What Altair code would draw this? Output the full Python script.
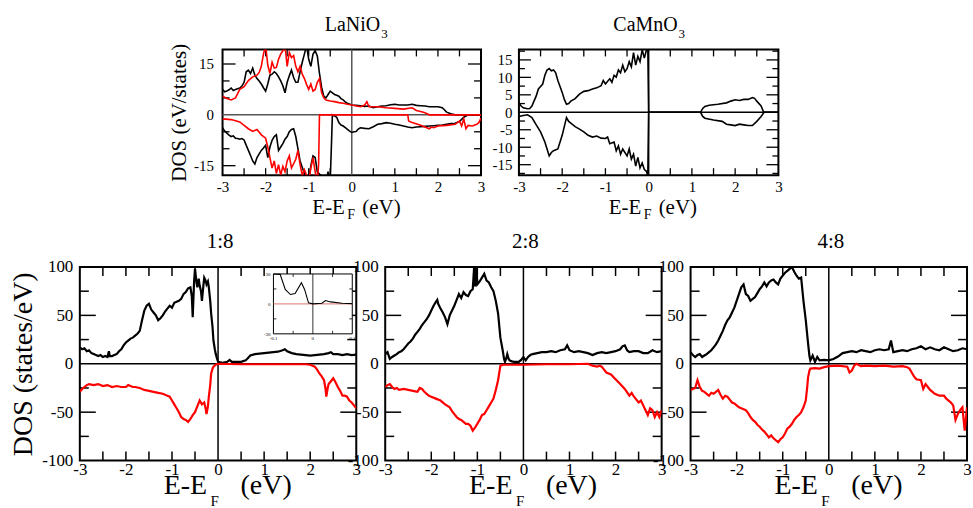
import altair as alt
import pandas as pd

FONT = "Liberation Serif"

# ---------------- tick / label values ----------------
X_LABELS = [-3, -2, -1, 0, 1, 2, 3]
X_TICKS = [-2.5, -2, -1.5, -1, -0.5, 0.5, 1, 1.5, 2, 2.5]
BOT_Y_LABELS = [-100, -50, 0, 50, 100]
BOT_Y_MAJOR = [-50, 50]
BOT_Y_MINOR = [-75, -25, 25, 75]
LA_Y_LABELS = [-15, 0, 15]
LA_Y_MAJOR = [-15, 15]
LA_Y_MINOR = [-10, -5, 5, 10]
CA_Y_LABELS = [-15, -10, -5, 0, 5, 10, 15]
CA_Y_MAJOR = [-15, -10, -5, 5, 10, 15]
CA_Y_MINOR = [-17.5, -12.5, -7.5, -2.5, 2.5, 7.5, 12.5, 17.5]
INSET_X_LABELS = [-0.1, 0, 0.1]
INSET_Y_LABELS = [-30, 0, 30]
INSET_X_TICKS = [-0.05, 0.05]
INSET_Y_TICKS = [-15, 15]
PANEL_TITLES = ["1:8", "2:8", "4:8"]
TOP_TITLES = [("LaNiO", "3"), ("CaMnO", "3")]

# ---------------- LaNiO3 (E, DOS) ----------------
LA_UP_BLACK = [(-3.0,7.5),(-2.95,6.8),(-2.9,7.0),(-2.85,7.4),(-2.8,7.9),(-2.75,7.2),(-2.7,7.5),(-2.65,7.7),(-2.6,7.9),(-2.55,8.5),
 (-2.5,9.6),(-2.45,12.7),(-2.4,13.2),(-2.35,12.2),(-2.3,13.8),(-2.25,11.7),(-2.2,10.7),(-2.15,10.0),(-2.1,9.1),(-2.05,8.0),
 (-2.0,7.0),(-1.95,9.1),(-1.9,11.7),(-1.85,12.0),(-1.8,12.7),(-1.75,12.2),(-1.7,11.2),(-1.65,10.0),(-1.6,8.6),(-1.55,6.5),
 (-1.5,9.6),(-1.45,11.5),(-1.4,13.2),(-1.35,11.0),(-1.3,9.6),(-1.25,9.6),(-1.2,12.7),(-1.15,15.5),(-1.1,17.9),(-1.05,20.5),
 (-1.0,16.4),(-0.95,14.3),(-0.9,17.9),(-0.85,18.9),(-0.8,17.4),(-0.75,12.2),(-0.7,8.1),(-0.65,5.5),(-0.6,5.0),(-0.55,6.0),
 (-0.5,7.0),(-0.45,6.5),(-0.4,6.0),(-0.35,5.8),(-0.3,5.5),(-0.25,4.8),(-0.2,4.4),(-0.15,3.8),(-0.1,3.4),(0.0,2.9),
 (0.1,2.8),(0.2,2.7),(0.3,2.5),(0.4,2.6),(0.5,2.1),(0.6,2.4),(0.7,2.6),(0.8,2.7),(0.9,3.0),(1.0,3.1),
 (1.1,2.9),(1.2,2.9),(1.3,2.9),(1.4,3.1),(1.5,2.8),(1.6,2.7),(1.7,2.6),(1.8,2.4),(1.9,2.4),(2.0,2.4),
 (2.1,2.1),(2.15,1.5),(2.2,0.8),(2.3,0.3),(2.4,0.0),(3.0,0.0)]
LA_DN_BLACK = [(-3.0,-3.8),(-2.95,-4.8),(-2.9,-5.4),(-2.85,-6.0),(-2.8,-6.4),(-2.75,-6.2),(-2.7,-6.9),(-2.65,-7.0),(-2.6,-7.2),(-2.55,-7.0),
 (-2.5,-7.4),(-2.45,-9.0),(-2.4,-10.5),(-2.35,-12.0),(-2.3,-13.6),(-2.25,-14.5),(-2.2,-12.6),(-2.15,-11.5),(-2.1,-10.5),(-2.05,-9.8),
 (-2.0,-9.0),(-1.95,-12.6),(-1.9,-9.5),(-1.85,-7.5),(-1.8,-6.4),(-1.75,-5.9),(-1.7,-10.5),(-1.65,-9.5),(-1.6,-8.5),(-1.55,-7.2),
 (-1.5,-6.4),(-1.45,-5.0),(-1.4,-4.3),(-1.35,-4.1),(-1.3,-6.4),(-1.25,-10.0),(-1.2,-13.6),(-1.15,-15.5),(-1.1,-17.3),(-1.05,-18.5),
 (-1.0,-19.5),(-0.95,-15.0),(-0.9,-12.1),(-0.85,-12.6),(-0.8,-16.8),(-0.75,-17.5),(-0.7,-18.0),(-0.65,-18.5),(-0.6,-19.5),(-0.55,-16.8),
 (-0.5,-19.5),(-0.47,-8.0),(-0.45,0.0),(-0.4,-0.3),(-0.35,-0.7),(-0.3,-2.3),(-0.25,-3.0),(-0.2,-3.3),(-0.15,-3.8),(-0.1,-4.3),
 (-0.05,-4.8),(0.0,-5.2),(0.05,-5.0),(0.1,-4.9),(0.15,-4.2),(0.2,-3.8),(0.3,-4.0),(0.4,-4.1),(0.5,-3.5),(0.6,-2.8),
 (0.7,-2.6),(0.8,-2.3),(0.9,-2.5),(1.0,-2.8),(1.1,-3.0),(1.2,-3.3),(1.3,-3.6),(1.4,-3.8),(1.5,-3.6),(1.6,-3.5),
 (1.7,-3.4),(1.8,-3.3),(1.9,-3.2),(2.0,-3.1),(2.1,-3.0),(2.2,-2.8),(2.3,-2.6),(2.4,-2.5),(2.5,-2.0),(2.6,-0.7),
 (2.7,0.0),(3.0,0.0)]
LA_UP_RED = [(-3.0,5.5),(-2.9,4.8),(-2.8,4.4),(-2.7,5.0),(-2.6,7.5),(-2.5,8.3),(-2.4,10.1),(-2.3,11.2),(-2.2,11.7),(-2.15,12.5),
 (-2.1,14.3),(-2.05,17.9),(-2.0,20.5),(-1.95,14.7),(-1.9,12.2),(-1.85,15.5),(-1.8,13.8),(-1.75,14.0),(-1.7,16.4),(-1.65,17.9),
 (-1.6,18.9),(-1.55,20.5),(-1.5,14.3),(-1.45,18.4),(-1.4,16.9),(-1.35,17.5),(-1.3,14.3),(-1.25,12.7),(-1.2,14.3),(-1.15,12.0),
 (-1.1,10.7),(-1.05,9.0),(-1.0,7.5),(-0.95,9.1),(-0.9,7.0),(-0.85,7.5),(-0.8,9.6),(-0.75,10.7),(-0.7,6.5),(-0.65,5.0),
 (-0.6,4.4),(-0.5,4.1),(-0.4,3.9),(-0.3,3.6),(-0.2,3.4),(-0.1,3.1),(0.0,2.9),(0.2,2.4),(0.3,2.9),(0.35,3.9),
 (0.4,2.4),(0.6,2.4),(0.8,2.1),(1.0,1.9),(1.2,1.7),(1.4,2.1),(1.5,1.3),(1.6,1.0),(1.7,0.6),(1.8,0.0),(3.0,0.0)]
LA_DN_RED = [(-3.0,-1.2),(-2.8,-1.4),(-2.6,-2.1),(-2.5,-3.1),(-2.4,-4.1),(-2.3,-4.9),(-2.2,-4.3),(-2.1,-5.9),(-2.0,-6.9),(-1.95,-9.5),
 (-1.9,-12.6),(-1.85,-15.7),(-1.8,-13.6),(-1.75,-17.3),(-1.7,-14.7),(-1.65,-17.8),(-1.6,-15.2),(-1.55,-16.8),(-1.5,-13.6),(-1.45,-12.1),
 (-1.4,-15.7),(-1.3,-13.1),(-1.25,-10.5),(-1.2,-14.7),(-1.15,-17.8),(-1.1,-16.2),(-1.0,-19.5),(-0.95,-15.7),(-0.9,-12.6),(-0.85,-16.8),
 (-0.8,-19.5),(-0.77,-14.7),(-0.75,0.0),(1.3,0.0),(1.32,-1.8),(1.4,-2.3),(1.6,-3.1),(1.8,-4.1),(1.85,-3.6),(1.9,-3.8),
 (2.0,-3.3),(2.2,-3.1),(2.4,-2.8),(2.5,-1.8),(2.55,-3.3),(2.6,-1.2),(2.65,-4.1),(2.7,-3.1),(2.8,-3.3),(2.9,-2.8),
 (2.95,-2.3),(3.0,-1.0)]

# ---------------- CaMnO3 ----------------
CA_UP = [(-3.0,2.7),(-2.95,1.8),(-2.9,1.3),(-2.8,1.0),(-2.75,1.1),(-2.7,1.8),(-2.6,4.7),(-2.55,6.7),(-2.5,7.4),(-2.45,8.1),
 (-2.4,10.6),(-2.35,12.1),(-2.3,12.5),(-2.25,11.9),(-2.2,12.1),(-2.15,11.3),(-2.1,9.1),(-2.0,5.7),(-1.95,3.7),(-1.9,2.3),
 (-1.85,2.5),(-1.8,3.2),(-1.7,3.9),(-1.6,5.2),(-1.5,6.0),(-1.4,6.2),(-1.3,6.7),(-1.2,7.0),(-1.1,7.6),(-1.05,9.1),
 (-1.0,8.1),(-0.9,9.6),(-0.85,8.6),(-0.8,10.6),(-0.75,10.1),(-0.7,12.1),(-0.65,11.3),(-0.6,13.5),(-0.55,11.6),(-0.5,12.5),
 (-0.45,14.5),(-0.4,13.0),(-0.35,17.1),(-0.3,13.5),(-0.25,16.0),(-0.2,14.5),(-0.15,17.9),(-0.1,15.5),(-0.05,17.9),(-0.02,19.0),
 (0.0,0.0),(1.2,0.0),(1.25,1.1),(1.3,1.7),(1.4,2.0),(1.6,2.3),(1.8,2.7),(1.9,3.2),(2.0,3.6),(2.1,3.4),
 (2.2,3.7),(2.3,3.7),(2.4,4.2),(2.45,4.0),(2.5,3.2),(2.6,1.8),(2.65,0.3),(2.67,0.0),(3.0,0.0)]
CA_DN = [(-3.0,-1.2),(-2.9,-0.9),(-2.8,-0.7),(-2.7,-1.5),(-2.6,-3.6),(-2.5,-5.6),(-2.4,-8.5),(-2.3,-12.5),(-2.25,-11.5),(-2.2,-11.0),
 (-2.1,-10.5),(-2.0,-6.6),(-1.9,-1.5),(-1.85,-2.6),(-1.8,-3.1),(-1.7,-4.1),(-1.6,-4.8),(-1.5,-5.6),(-1.4,-6.6),(-1.3,-7.1),
 (-1.2,-6.8),(-1.1,-7.4),(-1.0,-7.5),(-0.95,-7.1),(-0.9,-9.0),(-0.8,-8.5),(-0.75,-11.0),(-0.7,-9.6),(-0.65,-12.0),(-0.6,-10.5),
 (-0.5,-12.5),(-0.45,-10.5),(-0.4,-13.4),(-0.35,-12.0),(-0.3,-15.4),(-0.25,-12.9),(-0.2,-15.9),(-0.15,-14.5),(-0.1,-16.4),(-0.05,-16.9),
 (-0.02,-18.3),(0.0,0.0),(1.2,0.0),(1.25,-1.2),(1.3,-1.7),(1.5,-2.2),(1.7,-2.6),(1.8,-3.4),(1.9,-3.6),(2.0,-3.8),
 (2.1,-3.4),(2.2,-3.6),(2.3,-3.8),(2.4,-3.8),(2.5,-2.6),(2.6,-1.2),(2.67,0.0),(3.0,0.0)]

# ---------------- 1:8 ----------------
P18_UP = [(-3.0,17),(-2.95,15),(-2.9,16),(-2.85,13),(-2.8,14),(-2.75,11),(-2.7,10),(-2.65,9),(-2.6,8),(-2.55,9),
 (-2.5,7),(-2.45,8),(-2.4,7),(-2.37,13),(-2.35,8),(-2.3,8),(-2.25,9),(-2.2,10),(-2.15,13),(-2.1,15),
 (-2.05,19),(-2.0,22),(-1.95,24),(-1.9,26),(-1.85,27),(-1.8,29),(-1.75,31),(-1.7,34),(-1.65,45),(-1.6,55),
 (-1.55,60),(-1.5,62),(-1.45,56),(-1.4,53),(-1.35,50),(-1.3,45),(-1.25,47),(-1.2,50),(-1.15,54),(-1.1,57),
 (-1.05,60),(-1.0,58),(-0.95,63),(-0.9,64),(-0.85,65),(-0.8,67),(-0.75,72),(-0.7,74),(-0.65,78),(-0.6,79),
 (-0.57,70),(-0.55,48),(-0.52,85),(-0.5,98),(-0.47,85),(-0.45,79),(-0.42,88),(-0.4,81),(-0.37,75),(-0.35,65),
 (-0.32,80),(-0.3,89),(-0.27,86),(-0.25,82),(-0.22,85),(-0.2,79),(-0.17,65),(-0.15,52),(-0.12,38),(-0.1,24),
 (-0.07,15),(-0.05,10),(-0.02,5),(0.0,2),(0.05,1.5),(0.1,1),(0.15,1.5),(0.2,2),(0.25,4),(0.3,2),
 (0.4,2),(0.5,2),(0.6,3.5),(0.65,6),(0.7,8.5),(0.8,10),(0.9,10.5),(1.0,11),(1.1,11.5),(1.2,12),
 (1.3,12.5),(1.4,14),(1.45,15),(1.5,13),(1.6,11),(1.7,10),(1.8,9.5),(1.9,9),(2.0,8.5),(2.1,9),
 (2.2,9.5),(2.3,10),(2.4,11),(2.45,12),(2.5,10),(2.6,10),(2.7,9),(2.8,10),(2.9,9),(3.0,9.5)]
P18_DN = [(-3.0,-29),(-2.95,-26),(-2.9,-24),(-2.85,-22),(-2.8,-21),(-2.7,-22),(-2.6,-21),(-2.5,-23),(-2.4,-22),(-2.3,-24),
 (-2.2,-23),(-2.1,-24),(-2.0,-24),(-1.95,-22),(-1.9,-23),(-1.85,-24),(-1.8,-24),(-1.7,-25),(-1.6,-27),(-1.5,-28),
 (-1.4,-29),(-1.3,-30),(-1.2,-31),(-1.1,-33),(-1.05,-34),(-1.0,-38),(-0.95,-42),(-0.9,-46),(-0.85,-50),(-0.8,-55),
 (-0.75,-57),(-0.7,-58),(-0.65,-60),(-0.6,-57),(-0.55,-53),(-0.5,-50),(-0.45,-44),(-0.4,-38),(-0.35,-42),(-0.3,-40),
 (-0.27,-46),(-0.25,-52),(-0.22,-44),(-0.2,-34),(-0.17,-22),(-0.15,-10),(-0.12,-5),(-0.1,-3),(-0.05,-1),(0.0,0),
 (0.5,-0.5),(1.0,-0.5),(1.5,-0.5),(1.9,-0.5),(2.0,-1),(2.05,-2),(2.1,-3),(2.15,-6),(2.2,-10),(2.25,-13),
 (2.3,-17),(2.33,-25),(2.35,-34),(2.38,-25),(2.4,-21),(2.45,-18),(2.5,-15),(2.55,-19),(2.6,-24),(2.65,-28),
 (2.7,-33),(2.75,-33),(2.8,-34),(2.85,-38),(2.9,-40),(2.95,-43),(3.0,-46)]

# ---------------- 2:8 ----------------
P28_UP = [(-3.0,10),(-2.95,12),(-2.9,5),(-2.85,7),(-2.8,8.5),(-2.75,10),(-2.7,12),(-2.65,13),(-2.6,15),(-2.55,18),
 (-2.5,21),(-2.45,23),(-2.4,26),(-2.35,30),(-2.3,33),(-2.25,36),(-2.2,40),(-2.15,43),(-2.1,46),(-2.05,50),
 (-2.0,55),(-1.95,60),(-1.9,64),(-1.87,66),(-1.85,62),(-1.8,57),(-1.75,53),(-1.7,48),(-1.65,41),(-1.6,50),
 (-1.55,55),(-1.5,60),(-1.45,66),(-1.4,72),(-1.35,68),(-1.3,74),(-1.25,71),(-1.2,70),(-1.15,75),(-1.1,77),
 (-1.07,100),(-1.05,80),(-1.02,100),(-1.0,82),(-0.95,85),(-0.9,89),(-0.85,93),(-0.8,86),(-0.75,84),(-0.7,79),
 (-0.65,75),(-0.6,65),(-0.55,52),(-0.5,27),(-0.45,14),(-0.42,5),(-0.4,2),(-0.37,6),(-0.35,10),(-0.32,5),
 (-0.3,3.5),(-0.25,2.5),(-0.2,2),(-0.1,2),(-0.05,4),(0.0,7),(0.05,3.5),(0.1,7),(0.15,9),(0.2,10),
 (0.3,11),(0.4,12),(0.5,12),(0.6,13),(0.7,12),(0.8,14),(0.9,15),(0.95,19),(1.0,14),(1.1,12),
 (1.2,13),(1.3,12),(1.4,11),(1.5,9),(1.6,11),(1.7,12),(1.8,11),(1.9,12),(2.0,13),(2.1,15),
 (2.15,18),(2.2,19),(2.25,14),(2.3,12),(2.4,13),(2.5,13),(2.6,11),(2.7,11),(2.8,14),(2.9,12),(3.0,13)]
P28_DN = [(-3.0,-24),(-2.95,-22),(-2.9,-21),(-2.85,-24),(-2.8,-26),(-2.75,-25),(-2.7,-27),(-2.6,-26),(-2.5,-27),(-2.4,-28),
 (-2.3,-29),(-2.25,-25),(-2.2,-26),(-2.15,-29),(-2.1,-31),(-2.05,-33),(-2.0,-34),(-1.9,-36),(-1.8,-38),(-1.7,-42),
 (-1.6,-45),(-1.55,-49),(-1.5,-52),(-1.45,-55),(-1.4,-57),(-1.35,-58),(-1.3,-60),(-1.25,-62),(-1.2,-62),(-1.15,-64),
 (-1.1,-69),(-1.05,-66),(-1.0,-62),(-0.95,-58),(-0.9,-53),(-0.85,-52),(-0.8,-48),(-0.75,-44),(-0.7,-40),(-0.65,-36),
 (-0.6,-27),(-0.55,-17),(-0.52,-8),(-0.5,-2),(-0.45,-1),(0.0,-1),(0.5,-0.5),(1.0,-0.5),(1.4,0),(1.5,-2),
 (1.6,-3),(1.65,-2),(1.7,-3),(1.75,-6),(1.8,-9),(1.9,-11),(2.0,-16),(2.1,-21),(2.2,-26),(2.3,-33),
 (2.35,-30),(2.4,-34),(2.5,-40),(2.55,-38),(2.6,-43),(2.65,-48),(2.7,-53),(2.75,-46),(2.8,-48),(2.85,-55),
 (2.9,-50),(2.95,-55),(3.0,-48)]

# ---------------- 4:8 ----------------
P48_UP = [(-3.0,12),(-2.95,9),(-2.9,7),(-2.85,9),(-2.8,10),(-2.75,7),(-2.7,8.5),(-2.65,10),(-2.6,12),(-2.55,14),
 (-2.5,17),(-2.45,20),(-2.4,24),(-2.35,29),(-2.3,34),(-2.25,40),(-2.2,45),(-2.15,48),(-2.1,53),(-2.05,58),
 (-2.0,65),(-1.95,72),(-1.9,79),(-1.85,82),(-1.8,72),(-1.75,70),(-1.7,65),(-1.65,67),(-1.6,69),(-1.55,73),
 (-1.5,77),(-1.45,80),(-1.4,84),(-1.35,80),(-1.3,84),(-1.25,86),(-1.2,87),(-1.15,84),(-1.1,82),(-1.05,88),
 (-1.0,91),(-0.95,94),(-0.9,96),(-0.85,98),(-0.8,100),(-0.75,95),(-0.7,91),(-0.65,88),(-0.6,89),(-0.55,65),
 (-0.5,45),(-0.45,21),(-0.42,8),(-0.4,3.5),(-0.35,8.5),(-0.3,2),(-0.25,7),(-0.2,3.5),(-0.1,4),(0.0,3.5),
 (0.1,5),(0.2,7.5),(0.3,11),(0.4,12),(0.5,13),(0.6,12),(0.7,14),(0.8,13),(0.9,12),(1.0,14),
 (1.1,15),(1.2,14),(1.3,15),(1.35,24),(1.4,12),(1.5,13),(1.6,14),(1.7,13),(1.8,15),(1.9,16),
 (2.0,18),(2.1,15),(2.2,17),(2.3,15),(2.4,14),(2.5,17),(2.6,15),(2.7,13),(2.8,14),(2.9,16),(3.0,15)]
P48_DN = [(-3.0,-27),(-2.95,-26),(-2.9,-25),(-2.85,-17),(-2.8,-24),(-2.75,-28),(-2.7,-29),(-2.65,-31),(-2.6,-33),(-2.55,-30),
 (-2.5,-31),(-2.45,-29),(-2.4,-27),(-2.35,-32),(-2.3,-36),(-2.25,-33),(-2.2,-34),(-2.15,-37),(-2.1,-40),(-2.05,-41),
 (-2.0,-43),(-1.95,-45),(-1.9,-46),(-1.85,-47),(-1.8,-48),(-1.75,-51),(-1.7,-55),(-1.65,-58),(-1.6,-60),(-1.55,-63),
 (-1.5,-65),(-1.45,-68),(-1.4,-70),(-1.35,-73),(-1.3,-76),(-1.25,-74),(-1.2,-77),(-1.15,-79),(-1.1,-81),(-1.05,-78),
 (-1.0,-76),(-0.95,-72),(-0.9,-67),(-0.85,-65),(-0.8,-62),(-0.75,-58),(-0.7,-55),(-0.65,-53),(-0.6,-50),(-0.55,-45),
 (-0.5,-38),(-0.47,-25),(-0.45,-14),(-0.42,-7),(-0.4,-5),(-0.3,-4.5),(-0.2,-5),(-0.1,-3.5),(0.0,-2.5),(0.2,-2),
 (0.4,-3),(0.45,-9),(0.5,-7),(0.55,-2),(0.6,0),(0.7,-2.5),(0.8,-2),(1.0,-2.5),(1.2,-2),(1.4,-3),
 (1.6,-2.5),(1.7,-3.5),(1.75,-5),(1.8,-9),(1.85,-13),(1.9,-16),(2.0,-17),(2.05,-26),(2.1,-21),(2.15,-24),
 (2.2,-27),(2.3,-31),(2.4,-33),(2.5,-33),(2.55,-36),(2.6,-38),(2.65,-40),(2.7,-43),(2.75,-58),(2.8,-52),
 (2.85,-48),(2.9,-45),(2.95,-69),(3.0,-45)]

# ---------------- inset of 1:8 ----------------
INSET_BLACK = [(-0.1,30),(-0.083,29.6),(-0.07,14.5),(-0.057,9.4),(-0.045,10.4),(-0.029,21.2),(-0.021,14.5),
 (-0.011,1.0),(0.0,0.0),(0.023,0.7),(0.032,3.4),(0.045,2.0),(0.074,0.7),(0.1,0.3)]
INSET_RED = [(-0.1,0.0),(0.1,0.0)]

# ---------------- layout constants ----------------
BW, BH = 277, 194          # bottom panels plot size
TW1, TW2, TH = 259, 260, 126   # top panels plot size
IX0, IX1, IY0, IY1 = 194, 273, 7, 67  # inset box inside panel 1 (pixels)

ONE = pd.DataFrame({"k": [0]})


def df(points):
    return pd.DataFrame(points, columns=["E", "DOS"])


def text_at(txt, x, y, fs, align="left"):
    return alt.Chart(ONE).mark_text(text=txt, align=align, baseline="alphabetic", font=FONT,
                                    fontSize=fs, color="black").encode(x=alt.value(x), y=alt.value(y))


def make_panel(W, H, ydom, curves, ylab, ymaj, ymin, sty, ytitle=None, zero_color="black"):
    xs = alt.Scale(domain=[-3, 3], nice=False, zero=False)
    ys = alt.Scale(domain=ydom, nice=False, zero=False)
    ax = alt.Axis(values=X_LABELS, title=None, ticks=False, domain=False, grid=False,
                  labelFont=FONT, labelFontSize=sty["tick_fs"], labelPadding=sty["xlab_pad"],
                  labelFlush=False, labelOverlap=False, labelColor="black",
                  labelExpr="'' + datum.value")
    ykw = dict(values=ylab, ticks=False, domain=False, grid=False, labelFont=FONT,
               labelFontSize=sty["tick_fs"], labelPadding=sty["ylab_pad"], labelFlush=False,
               labelOverlap=False, labelColor="black", labelExpr="'' + datum.value")
    if ytitle:
        ay = alt.Axis(title=ytitle, titleFont=FONT, titleFontSize=sty["ytitle_fs"],
                      titleFontWeight="normal", titleColor="black",
                      titlePadding=sty["ytitle_pad"], **ykw)
    else:
        ay = alt.Axis(title=None, **ykw)

    def X():
        return alt.X("E:Q", scale=xs, axis=ax)

    def Y():
        return alt.Y("DOS:Q", scale=ys, axis=ay)

    layers = []
    zw = sty["zero_w"]
    layers.append(alt.Chart(pd.DataFrame({"DOS": [0]})).mark_rule(color=zero_color, strokeWidth=zw).encode(y=Y()))
    layers.append(alt.Chart(pd.DataFrame({"E": [0]})).mark_rule(color=zero_color, strokeWidth=zw).encode(x=X()))
    tl = sty["xtick"]
    tw = sty["tick_w"]
    xt = pd.DataFrame({"E": X_TICKS})
    layers.append(alt.Chart(xt).mark_rule(color="black", strokeWidth=tw).encode(x=X(), y=alt.value(0), y2=alt.value(tl)))
    layers.append(alt.Chart(xt).mark_rule(color="black", strokeWidth=tw).encode(x=X(), y=alt.value(H - tl), y2=alt.value(H)))
    for vals, L in ((ymaj, sty["ymaj"]), (ymin, sty["ymin"])):
        yt = pd.DataFrame({"DOS": vals})
        layers.append(alt.Chart(yt).mark_rule(color="black", strokeWidth=tw).encode(y=Y(), x=alt.value(0), x2=alt.value(L)))
        layers.append(alt.Chart(yt).mark_rule(color="black", strokeWidth=tw).encode(y=Y(), x=alt.value(W - L), x2=alt.value(W)))
    for pts, color, w in curves:
        layers.append(alt.Chart(df(pts)).mark_line(color=color, strokeWidth=w, clip=True).encode(x=X(), y=Y()))
    # x title "E-E_F (eV)"
    s = sty["xt_start"]
    layers.append(text_at("E-E", s, H + sty["xt_base"], sty["xt_fs"]))
    layers.append(text_at("F", s + sty["xt_f"], H + sty["xt_sub"], sty["xt_sub_fs"]))
    layers.append(text_at("(eV)", s + sty["xt_ev"], H + sty["xt_base"], sty["xt_fs"]))
    return layers


BOT = dict(tick_fs=17, xlab_pad=1, ylab_pad=7, ytitle_fs=28, ytitle_pad=4, zero_w=1.5,
           xtick=9, tick_w=1.5, ymaj=16, ymin=9, xt_start=84, xt_base=33, xt_fs=28,
           xt_f=47, xt_sub=46, xt_sub_fs=15, xt_ev=77)
TOPS = dict(tick_fs=15, xlab_pad=4, ylab_pad=9, ytitle_fs=21, ytitle_pad=4, zero_w=1.5,
            xtick=7, tick_w=1.3, ymaj=13, ymin=7, xt_start=90, xt_base=39, xt_fs=21,
            xt_f=35, xt_sub=44, xt_sub_fs=14, xt_ev=50)
TOPC = dict(TOPS, ylab_pad=7, ymaj=12, ymin=6)


# ----- bottom row -----
p1_layers = make_panel(BW, BH, [-100, 100], [(P18_UP, "black", 2.2), (P18_DN, "red", 2.2)],
                       BOT_Y_LABELS, BOT_Y_MAJOR, BOT_Y_MINOR, BOT, ytitle="DOS (states/eV)")
p1_layers.append(text_at(PANEL_TITLES[0], BW / 2 + 2, -19, 21, align="center"))
ixs = alt.Scale(domain=[-0.1, 0.1], range=[IX0, IX1], nice=False, zero=False)
iys = alt.Scale(domain=[-30, 30], range=[IY1, IY0], nice=False, zero=False)
IXE = alt.X("E:Q", scale=ixs, axis=None)
IYE = alt.Y("DOS:Q", scale=iys, axis=None)
box = pd.DataFrame({"E": [-0.1], "E2": [0.1], "DOS": [-30], "DOS2": [30]})
vline = pd.DataFrame({"E": [0], "DOS": [-30], "DOS2": [30]})
inset_layers = [
    alt.Chart(box).mark_rect(fill="white", stroke="black", strokeWidth=1).encode(
        x=IXE, x2="E2:Q", y=IYE, y2="DOS2:Q"),
    alt.Chart(vline).mark_rule(color="black", strokeWidth=0.8).encode(x=IXE, y=IYE, y2="DOS2:Q"),
    alt.Chart(pd.DataFrame({"E": INSET_X_TICKS})).mark_rule(color="black", strokeWidth=0.8).encode(
        x=IXE, y=alt.value(IY0), y2=alt.value(IY0 + 3)),
    alt.Chart(pd.DataFrame({"E": INSET_X_TICKS})).mark_rule(color="black", strokeWidth=0.8).encode(
        x=IXE, y=alt.value(IY1 - 3), y2=alt.value(IY1)),
    alt.Chart(pd.DataFrame({"DOS": INSET_Y_TICKS})).mark_rule(color="black", strokeWidth=0.8).encode(
        y=IYE, x=alt.value(IX0), x2=alt.value(IX0 + 3)),
    alt.Chart(pd.DataFrame({"DOS": INSET_Y_TICKS})).mark_rule(color="black", strokeWidth=0.8).encode(
        y=IYE, x=alt.value(IX1 - 3), x2=alt.value(IX1)),
    alt.Chart(df(INSET_RED)).mark_line(color="#e06060", strokeWidth=0.9).encode(x=IXE, y=IYE),
    alt.Chart(df(INSET_BLACK)).mark_line(color="black", strokeWidth=1.1, clip=True).encode(x=IXE, y=IYE),
    alt.Chart(pd.DataFrame({"E": INSET_X_LABELS, "DOS": [-30] * 3})).transform_calculate(
        t="'' + datum.E").mark_text(font=FONT, fontSize=5, baseline="top", dy=2, color="black").encode(
        x=IXE, y=IYE, text="t:N"),
    alt.Chart(pd.DataFrame({"E": [-0.1] * 3, "DOS": INSET_Y_LABELS})).transform_calculate(
        t="'' + datum.DOS").mark_text(font=FONT, fontSize=5, align="right", dx=-3, color="black").encode(
        x=IXE, y=IYE, text="t:N"),
]
p1 = alt.layer(alt.layer(*p1_layers), alt.layer(*inset_layers)).resolve_scale(
    x="independent", y="independent").properties(width=BW, height=BH)

p2_layers = make_panel(BW, BH, [-100, 100], [(P28_UP, "black", 2.2), (P28_DN, "red", 2.2)],
                       BOT_Y_LABELS, BOT_Y_MAJOR, BOT_Y_MINOR, BOT)
p2_layers.append(text_at(PANEL_TITLES[1], BW / 2 + 2, -19, 21, align="center"))
p2 = alt.layer(*p2_layers).properties(width=BW, height=BH)

p3_layers = make_panel(BW, BH, [-100, 100], [(P48_UP, "black", 2.2), (P48_DN, "red", 2.2)],
                       BOT_Y_LABELS, BOT_Y_MAJOR, BOT_Y_MINOR, BOT)
p3_layers.append(text_at(PANEL_TITLES[2], BW / 2 + 2, -19, 21, align="center"))
p3 = alt.layer(*p3_layers).properties(width=BW, height=BH)

# ----- top row -----
la_layers = make_panel(TW1, TH, [-17.8, 19.3],
                       [(LA_DN_BLACK, "black", 1.6), (LA_UP_BLACK, "black", 1.6),
                        (LA_UP_RED, "red", 1.6), (LA_DN_RED, "red", 1.6)],
                       LA_Y_LABELS, LA_Y_MAJOR, LA_Y_MINOR, TOPS, ytitle="DOS (eV/states)",
                       zero_color="#555555")
la_layers.append(text_at(TOP_TITLES[0][0], 158, -18, 20, align="right"))
la_layers.append(text_at(TOP_TITLES[0][1], 159, -11, 13))
pla = alt.layer(*la_layers).properties(width=TW1, height=TH)

ca_layers = make_panel(TW2, TH, [-18, 18], [(CA_UP, "black", 1.6), (CA_DN, "black", 1.6)],
                       CA_Y_LABELS, CA_Y_MAJOR, CA_Y_MINOR, TOPC)
ca_layers.append(text_at(TOP_TITLES[1][0], 159, -18, 20, align="right"))
ca_layers.append(text_at(TOP_TITLES[1][1], 160, -11, 13))
pca = alt.layer(*ca_layers).properties(width=TW2, height=TH)

spacer = alt.Chart(ONE).mark_point(opacity=0).properties(
    width=105, height=TH, view=alt.ViewBackground(stroke=None))

top = alt.hconcat(spacer, pla, pca, spacing=38, bounds="flush")
bottom = alt.hconcat(p1, p2, p3, spacing=29, bounds="flush")

# nested concat groups count as zero height under flush bounds, so the
# spacing covers the top row's plot height (126) plus the gap (92)
chart = alt.vconcat(top, bottom, spacing=218, bounds="flush").configure_view(
    stroke="black", strokeWidth=2).properties(
    padding={"left": 8, "top": 14, "right": 0, "bottom": 0}, background="white")

chart.save("out.html", embed_options={"renderer": "svg", "actions": False})
